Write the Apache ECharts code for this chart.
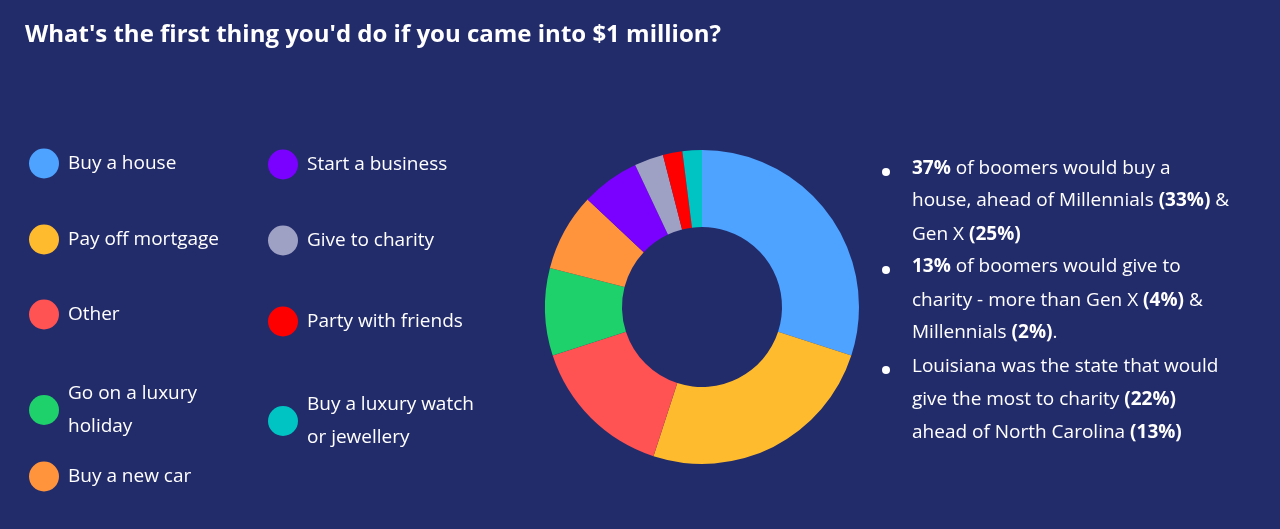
<!DOCTYPE html><html><head><meta charset="utf-8">
<script src="https://cdn.jsdelivr.net/npm/echarts@6/dist/echarts.min.js"></script>
<style>html,body{margin:0;padding:0;background:#fff}#c{width:1280px;height:529px}</style></head><body><div id="c"></div>
<script>
const categories=["Buy a house","Pay off mortgage","Other","Go on a luxury holiday","Buy a new car","Start a business","Give to charity","Party with friends","Buy a luxury watch or jewellery"];
const legendLabels=["Buy a house","Pay off mortgage","Other","Go on a luxury\nholiday","Buy a new car","Start a business","Give to charity","Party with friends","Buy a luxury watch\nor jewellery"];
const values=[30,25,15,9,8,6,3,2,2];
const colors=["#4da3ff","#ffbb2e","#ff5252","#1ed16a","#ff943d","#7a00ff","#9ea0c4","#ff0000","#00c4c4"];
const notes=[
 [["b","37%"],["n"," of boomers would buy a"]],
 [["n","house, ahead of Millennials "],["b","(33%)"],["n"," &"]],
 [["n","Gen X "],["b","(25%)"]],
 [["b","13%"],["n"," of boomers would give to"]],
 [["n","charity - more than Gen X "],["b","(4%)"],["n"," &"]],
 [["n","Millennials "],["b","(2%)"],["n","."]],
 [["n","Louisiana was the state that would"]],
 [["n","give the most to charity "],["b","(22%)"]],
 [["n","ahead of North Carolina "],["b","(13%)"]]
];
const bulletLines=[0,3,6];
const legendPos=[[24,142],[24,218],[24,293],[24,372],[24,455],[263,143],[263,219],[263,300],[263,383]];
const FONT='"Open Sans","Noto Sans",sans-serif';
const legends=categories.map((c,i)=>({
  data:[c],left:legendPos[i][0],top:legendPos[i][1],orient:'vertical',
  icon:'circle',itemWidth:30,itemHeight:30,itemGap:10,
  formatter:()=>legendLabels[i],
  textStyle:{color:'#fff',fontSize:19,fontFamily:FONT,lineHeight:33,padding:[0,0,0,4]}
}));
const lineY=[173,205,239,271,305,337,371,404,437];
const graphic=[];
notes.forEach((ln,i)=>{
  graphic.push({type:'text',left:912,top:lineY[i]-14,style:{
    text:ln.map(p=>'{'+p[0]+'|'+p[1]+'}').join(''),
    rich:{b:{fontWeight:'bold',fill:'#fff',fontSize:19,fontFamily:FONT},n:{fill:'#fff',fontSize:19,fontFamily:FONT}}
  }});
});
bulletLines.forEach(i=>graphic.push({type:'circle',shape:{cx:886,cy:lineY[i]-1,r:4},style:{fill:'#fff'}}));
const chart=echarts.init(document.getElementById('c'));
chart.setOption({
  backgroundColor:'#232c6b',
  title:{text:"What's the first thing you'd do if you came into $1 million?",left:20,top:18,
    textStyle:{color:'#fff',fontSize:24,fontWeight:'bold',fontFamily:FONT}},
  color:colors,
  legend:legends,
  graphic:graphic,
  series:[{type:'pie',center:[702,307],radius:[80,157],startAngle:90,clockwise:true,
    label:{show:false},labelLine:{show:false},silent:true,
    data:categories.map((c,i)=>({name:c,value:values[i]}))}]
});
</script></body></html>
